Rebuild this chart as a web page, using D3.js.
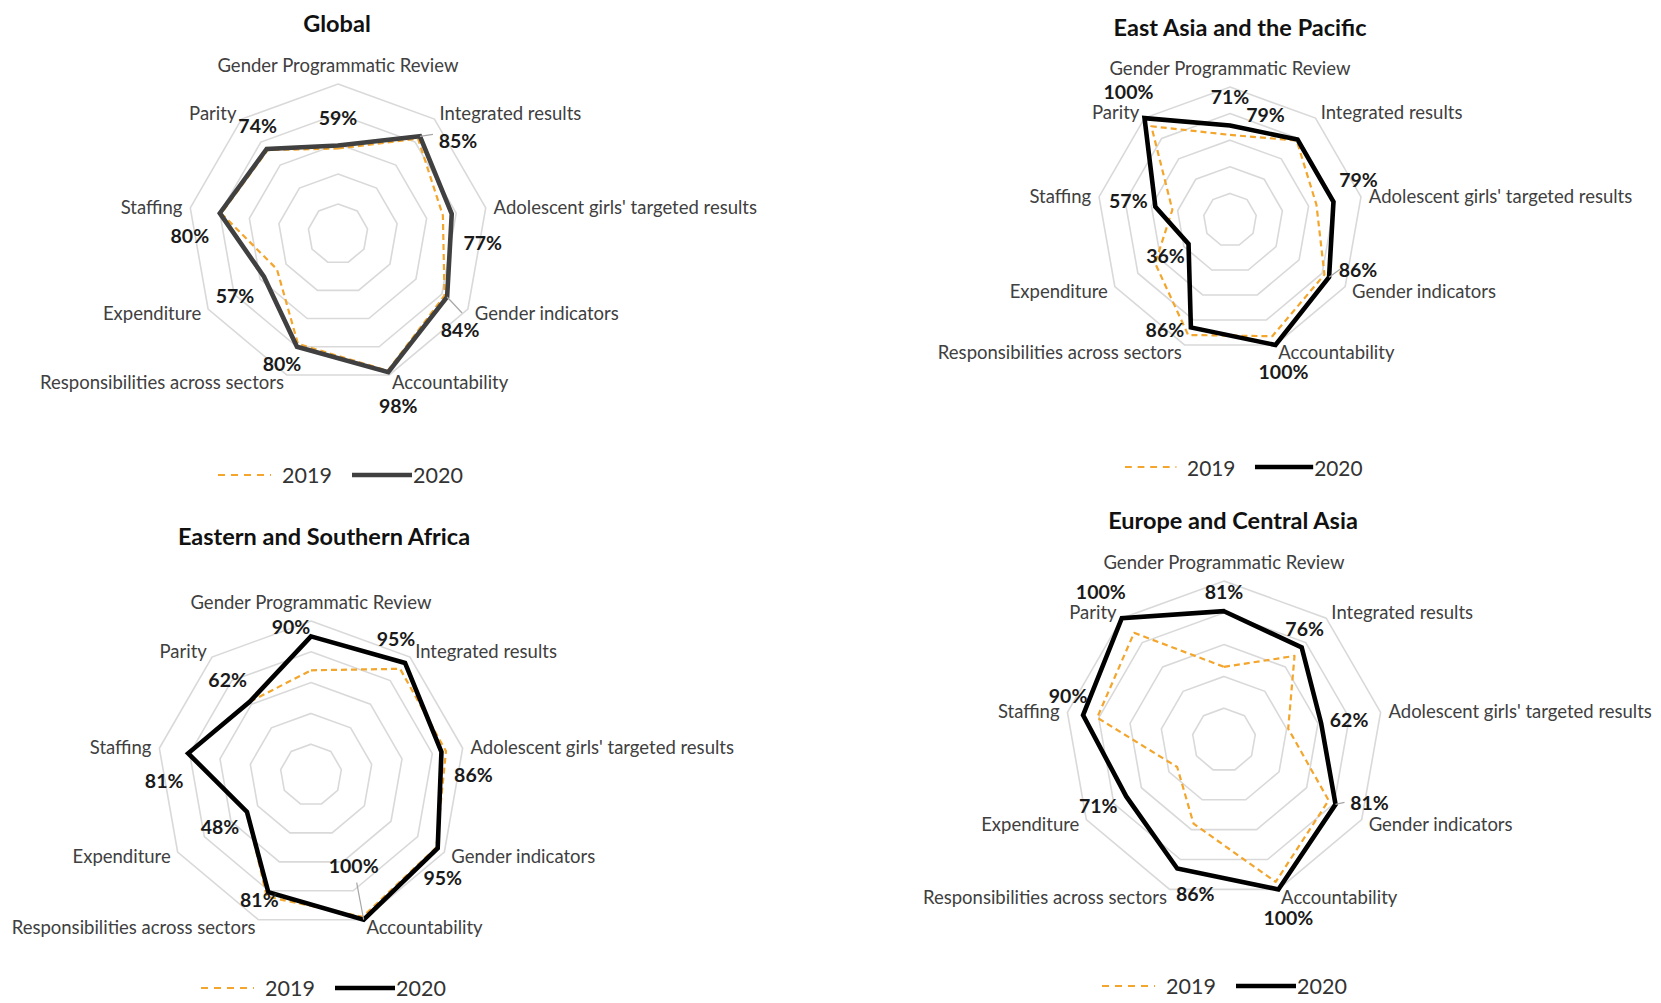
<!DOCTYPE html>
<html>
<head>
<meta charset="utf-8">
<script src="https://cdn.jsdelivr.net/npm/d3@7"></script>
<style>
  html, body { margin: 0; padding: 0; background: #fff; }
  svg { display: block; }
  text { font-family: Lato, "Open Sans", sans-serif; }
</style>
</head>
<body>
<svg id="chart" width="1661" height="1003"></svg>
<script>
// ---------------- DATA ----------------
const categories = [
  "Gender Programmatic Review",
  "Integrated results",
  "Adolescent girls' targeted results",
  "Gender indicators",
  "Accountability",
  "Responsibilities across sectors",
  "Expenditure",
  "Staffing",
  "Parity"
];
const seriesNames = ["2019", "2020"];
const gridTicks = [20, 40, 60, 80, 100];

const global2019 = [57, 83, 71, 82, 97, 78, 47, 79, 73];
const global2020 = [59, 85, 77, 84, 98, 80, 57, 80, 74];

const eap2019 = [64, 78, 66, 82, 93, 92, 65, 44, 92];
const eap2020 = [71, 79, 79, 86, 100, 86, 36, 57, 100];

const esa2019 = [68, 90, 89, 94, 98, 84, 48, 81, 62];
const esa2020 = [90, 95, 86, 95, 100, 81, 48, 81, 62];

const eca2019 = [46, 69, 41, 76, 95, 56, 34, 81, 88];
const eca2020 = [81, 76, 62, 81, 100, 86, 71, 90, 100];

const titles = ["Global", "East Asia and the Pacific", "Eastern and Southern Africa", "Europe and Central Asia"];

// ---------------- LAYOUT ----------------
const layout = [
  { cx: 338,  cy: 234, R: 150, tx: 337,  ty: 23,  lx: 218,  ly: 475, c2020: "#404040", ls: 1.0 },
  { cx: 1230, cy: 220, R: 133, tx: 1240, ty: 27,  lx: 1125, ly: 467, c2020: "#000000", ls: 0.97 },
  { cx: 311,  cy: 775, R: 154, tx: 324,  ty: 536, lx: 201,  ly: 988, c2020: "#000000", ls: 1.0 },
  { cx: 1224, cy: 740, R: 159, tx: 1233, ty: 520, lx: 1102, ly: 986, c2020: "#000000", ls: 1.0 }
];
// data-label offsets (dx, dy) relative to the 2020 point
const labelOffsets = [
  [[0,-28],[38,4],[31,29],[13,32],[10,33],[-15,17],[-29,19],[-30,22],[-9,-23]],
  [[0,-29],[-32,-25],[25,-22],[29,-8],[8,27],[-26,2],[-23,12],[-27,-6],[-16,-27]],
  [[-20,-10],[-9,-24],[32,22],[5,29],[-10,-54],[-9,7],[-27,15],[-24,27],[-22,-22]],
  [[0,-20],[3,-19],[28,-3],[34,-2],[10,28],[18,25],[-28,9],[-15,-20],[-21,-27]]
];
// leader lines: [category index, dx, dy] from the 2020 point
const leaders = [
  [[1, 13, -2], [3, 15, 16]],
  [[3, 11, -8]],
  [[4, -7, -37]],
  [[3, 9, -2]]
];

const data2019 = [global2019, eap2019, esa2019, eca2019];
const data2020 = [global2020, eap2020, esa2020, eca2020];

const COLOR_2019 = "#f3a52c";
const GRID = "#d9d9d9";
const N = categories.length;

const svg = d3.select("#chart");
const angle = d3.scaleLinear().domain([0, N]).range([0, 2 * Math.PI]);

layout.forEach((L, p) => {
  const r = d3.scaleLinear().domain([0, 100]).range([0, L.R]);
  const g = svg.append("g").attr("transform", `translate(${L.cx},${L.cy})`);
  const idx = d3.range(N);
  const radial = d3.lineRadial()
    .angle(i => angle(i))
    .curve(d3.curveLinearClosed);
  const pt = (i, v) => [Math.sin(angle(i)) * r(v), -Math.cos(angle(i)) * r(v)];

  // grid rings
  gridTicks.forEach(t => {
    g.append("path")
      .attr("d", radial.radius(() => r(t))(idx))
      .attr("fill", "none")
      .attr("stroke", GRID)
      .attr("stroke-width", 1.6);
  });

  // 2019 series
  const v19 = data2019[p];
  g.append("path")
    .attr("d", radial.radius(i => r(v19[i]))(idx))
    .attr("fill", "none")
    .attr("stroke", COLOR_2019)
    .attr("stroke-width", 2.2)
    .attr("stroke-dasharray", "6,4")
    .attr("stroke-linejoin", "round");

  // 2020 series
  const v20 = data2020[p];
  g.append("path")
    .attr("d", radial.radius(i => r(v20[i]))(idx))
    .attr("fill", "none")
    .attr("stroke", L.c2020)
    .attr("stroke-width", 4.6)
    .attr("stroke-linejoin", "miter");

  // leader lines
  leaders[p].forEach(([i, dx, dy]) => {
    const [x, y] = pt(i, v20[i]);
    g.append("line")
      .attr("x1", x).attr("y1", y)
      .attr("x2", x + dx).attr("y2", y + dy)
      .attr("stroke", "#a6a6a6").attr("stroke-width", 1.2);
  });

  // category labels
  idx.forEach(i => {
    const a = angle(i);
    const [vx, vy] = pt(i, 100);
    const s = Math.sin(a), c = Math.cos(a);
    let x, y, anchor;
    if (Math.abs(s) < 0.05) { x = vx; y = vy - 19; anchor = "middle"; }
    else { x = vx + s * 8; y = vy - c * 8; anchor = s > 0 ? "start" : "end"; }
    g.append("text")
      .attr("x", x).attr("y", y)
      .attr("text-anchor", anchor)
      .attr("dominant-baseline", "central")
      .attr("font-size", 18.5)
      .attr("fill", "#404040")
      .text(categories[i]);
  });

  // data labels (2020 values)
  idx.forEach(i => {
    const [x, y] = pt(i, v20[i]);
    const [dx, dy] = labelOffsets[p][i];
    g.append("text")
      .attr("x", x + dx).attr("y", y + dy)
      .attr("text-anchor", "middle")
      .attr("dominant-baseline", "central")
      .attr("font-size", 19.5)
      .attr("font-weight", "bold")
      .attr("fill", "#1a1a1a")
      .text(v20[i] + "%");
  });

  // title
  svg.append("text")
    .attr("x", L.tx).attr("y", L.ty)
    .attr("text-anchor", "middle")
    .attr("dominant-baseline", "central")
    .attr("font-size", 23.5)
    .attr("font-weight", "bold")
    .attr("fill", "#111")
    .text(titles[p]);

  // legend
  const lg = svg.append("g").attr("transform", `translate(${L.lx},${L.ly}) scale(${L.ls})`);
  lg.append("line").attr("x1", 0).attr("x2", 53).attr("y1", 0).attr("y2", 0)
    .attr("stroke", COLOR_2019).attr("stroke-width", 2.2).attr("stroke-dasharray", "7,6");
  lg.append("text").attr("x", 64).attr("y", 0).attr("dominant-baseline", "central")
    .attr("font-size", 21.5).attr("fill", "#333").text(seriesNames[0]);
  lg.append("line").attr("x1", 134).attr("x2", 194).attr("y1", 0).attr("y2", 0)
    .attr("stroke", L.c2020).attr("stroke-width", 4.6);
  lg.append("text").attr("x", 195).attr("y", 0).attr("dominant-baseline", "central")
    .attr("font-size", 21.5).attr("fill", "#333").text(seriesNames[1]);
});
</script>
</body>
</html>
